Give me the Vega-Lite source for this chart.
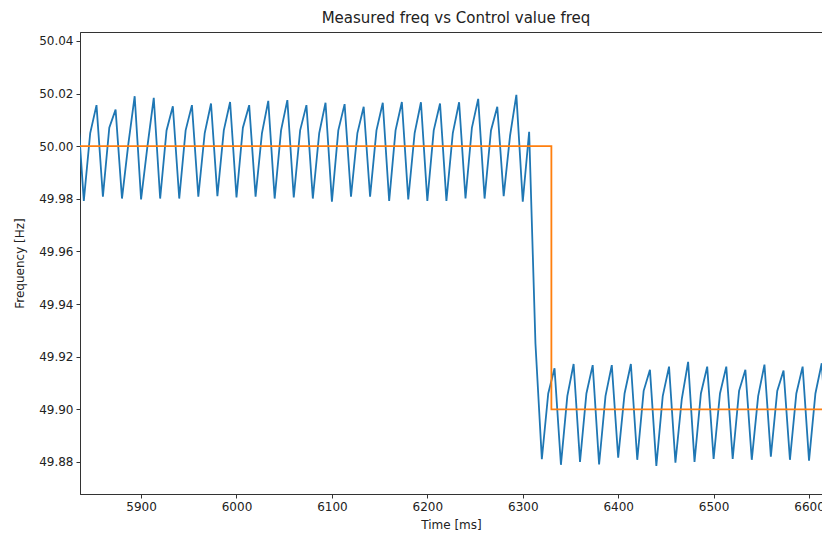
{
  "$schema": "https://vega.github.io/schema/vega-lite/v6.json",
  "width": 742,
  "height": 462,
  "autosize": {"type": "none"},
  "padding": {"left": 80, "top": 32, "right": 0, "bottom": 39},
  "background": "white",
  "title": {"text": "Measured freq vs Control value freq", "font": "DejaVu Sans", "fontSize": 15, "fontWeight": "normal", "color": "#222", "offset": 6, "dx": 5},
  "config": {
    "view": {"stroke": "#333", "strokeWidth": 1},
    "axis": {"labelFont": "DejaVu Sans", "labelFontSize": 12, "labelColor": "#222", "titleFont": "DejaVu Sans", "titleFontSize": 12, "titleFontWeight": "normal", "titleColor": "#222", "tickColor": "#333", "domainColor": "#333", "grid": false, "tickSize": 4, "labelPadding": 3}
  },
  "datasets": {
    "measured": [
      {"t": 5833.3, "f": 50.015},
      {"t": 5840, "f": 49.9792}, {"t": 5846.7, "f": 50.005}, {"t": 5853.3, "f": 50.0156},
      {"t": 5860, "f": 49.9808}, {"t": 5866.7, "f": 50.007}, {"t": 5873.3, "f": 50.0139},
      {"t": 5880, "f": 49.9801}, {"t": 5886.7, "f": 50.001}, {"t": 5893.3, "f": 50.019},
      {"t": 5900, "f": 49.9798}, {"t": 5906.7, "f": 50.0}, {"t": 5913.3, "f": 50.0184},
      {"t": 5920, "f": 49.9801}, {"t": 5926.7, "f": 50.006}, {"t": 5933.3, "f": 50.0152},
      {"t": 5940, "f": 49.9801}, {"t": 5946.7, "f": 50.006}, {"t": 5953.3, "f": 50.0156},
      {"t": 5960, "f": 49.9808}, {"t": 5966.7, "f": 50.005}, {"t": 5973.3, "f": 50.0162},
      {"t": 5980, "f": 49.981}, {"t": 5986.7, "f": 50.006}, {"t": 5993.3, "f": 50.0168},
      {"t": 6000, "f": 49.9805}, {"t": 6006.7, "f": 50.007}, {"t": 6013.3, "f": 50.0156},
      {"t": 6020, "f": 49.9808}, {"t": 6026.7, "f": 50.005}, {"t": 6033.3, "f": 50.0172},
      {"t": 6040, "f": 49.9801}, {"t": 6046.7, "f": 50.006}, {"t": 6053.3, "f": 50.0175},
      {"t": 6060, "f": 49.9805}, {"t": 6066.7, "f": 50.006}, {"t": 6073.3, "f": 50.0156},
      {"t": 6080, "f": 49.9801}, {"t": 6086.7, "f": 50.005}, {"t": 6093.3, "f": 50.0165},
      {"t": 6100, "f": 49.9789}, {"t": 6106.7, "f": 50.006}, {"t": 6113.3, "f": 50.016},
      {"t": 6120, "f": 49.9808}, {"t": 6126.7, "f": 50.005}, {"t": 6133.3, "f": 50.015},
      {"t": 6140, "f": 49.9808}, {"t": 6146.7, "f": 50.006}, {"t": 6153.3, "f": 50.0165},
      {"t": 6160, "f": 49.9792}, {"t": 6166.7, "f": 50.006}, {"t": 6173.3, "f": 50.0168},
      {"t": 6180, "f": 49.9798}, {"t": 6186.7, "f": 50.005}, {"t": 6193.3, "f": 50.0167},
      {"t": 6200, "f": 49.9792}, {"t": 6206.7, "f": 50.006}, {"t": 6213.3, "f": 50.0162},
      {"t": 6220, "f": 49.9792}, {"t": 6226.7, "f": 50.005}, {"t": 6233.3, "f": 50.0167},
      {"t": 6240, "f": 49.9801}, {"t": 6246.7, "f": 50.007}, {"t": 6253.3, "f": 50.018},
      {"t": 6260, "f": 49.9801}, {"t": 6266.7, "f": 50.006}, {"t": 6273.3, "f": 50.015},
      {"t": 6280, "f": 49.981}, {"t": 6286.7, "f": 50.004}, {"t": 6293.3, "f": 50.0195},
      {"t": 6300, "f": 49.9789}, {"t": 6306.7, "f": 50.0055}, {"t": 6313.3, "f": 49.925},
      {"t": 6320, "f": 49.881}, {"t": 6326.7, "f": 49.906}, {"t": 6333.3, "f": 49.9156},
      {"t": 6340, "f": 49.8789}, {"t": 6346.7, "f": 49.905}, {"t": 6353.3, "f": 49.9172},
      {"t": 6360, "f": 49.88}, {"t": 6366.7, "f": 49.906}, {"t": 6373.3, "f": 49.9168},
      {"t": 6380, "f": 49.879}, {"t": 6386.7, "f": 49.905}, {"t": 6393.3, "f": 49.9168},
      {"t": 6400, "f": 49.8816}, {"t": 6406.7, "f": 49.906}, {"t": 6413.3, "f": 49.9172},
      {"t": 6420, "f": 49.8808}, {"t": 6426.7, "f": 49.907}, {"t": 6433.3, "f": 49.915},
      {"t": 6440, "f": 49.8785}, {"t": 6446.7, "f": 49.905}, {"t": 6453.3, "f": 49.9162},
      {"t": 6460, "f": 49.8797}, {"t": 6466.7, "f": 49.904}, {"t": 6473.3, "f": 49.918},
      {"t": 6480, "f": 49.88}, {"t": 6486.7, "f": 49.906}, {"t": 6493.3, "f": 49.9162},
      {"t": 6500, "f": 49.8811}, {"t": 6506.7, "f": 49.906}, {"t": 6513.3, "f": 49.9162},
      {"t": 6520, "f": 49.8811}, {"t": 6526.7, "f": 49.907}, {"t": 6533.3, "f": 49.915},
      {"t": 6540, "f": 49.8808}, {"t": 6546.7, "f": 49.905}, {"t": 6553.3, "f": 49.917},
      {"t": 6560, "f": 49.882}, {"t": 6566.7, "f": 49.907}, {"t": 6573.3, "f": 49.9147},
      {"t": 6580, "f": 49.8808}, {"t": 6586.7, "f": 49.906}, {"t": 6593.3, "f": 49.9162},
      {"t": 6600, "f": 49.8805}, {"t": 6606.7, "f": 49.906}, {"t": 6613.3, "f": 49.9175},
      {"t": 6620, "f": 49.881}
    ],
    "control": [
      {"t": 5820, "f": 50.0},
      {"t": 6330, "f": 49.9},
      {"t": 6630, "f": 49.9}
    ]
  },
  "encoding": {
    "x": {"field": "t", "type": "quantitative", "title": "Time [ms]",
      "scale": {"domain": [5836, 6613.6], "nice": false, "zero": false},
      "axis": {"values": [5900, 6000, 6100, 6200, 6300, 6400, 6500, 6600], "format": "d", "titlePadding": 7}},
    "y": {"field": "f", "type": "quantitative", "title": "Frequency [Hz]",
      "scale": {"domain": [49.8678, 50.0434], "nice": false, "zero": false},
      "axis": {"values": [49.88, 49.9, 49.92, 49.94, 49.96, 49.98, 50.0, 50.02, 50.04], "format": ".2f", "titlePadding": 12}}
  },
  "layer": [
    {"data": {"name": "measured"}, "mark": {"type": "line", "color": "#1f77b4", "strokeWidth": 1.8, "clip": true}},
    {"data": {"name": "control"}, "mark": {"type": "line", "color": "#ff7f0e", "strokeWidth": 1.8, "interpolate": "step-after", "clip": true}}
  ]
}
